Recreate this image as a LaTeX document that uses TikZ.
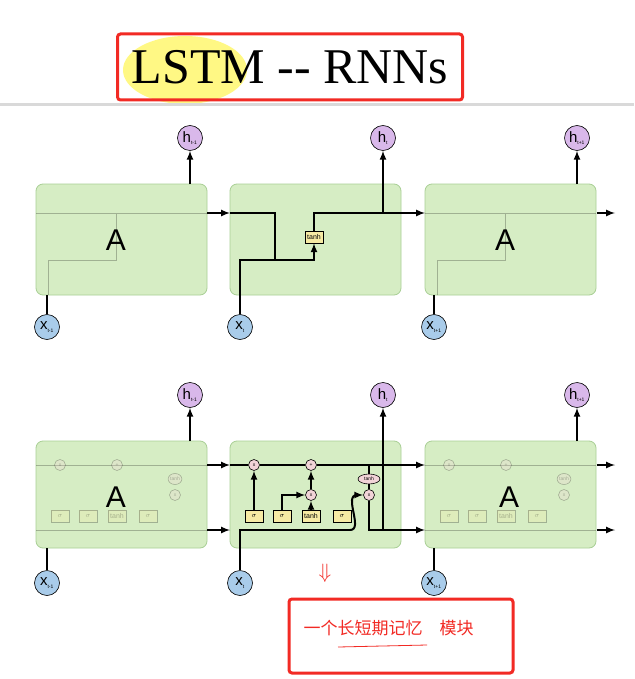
\documentclass[tikz,border=0pt]{standalone}
\usepackage{fontspec}
\setmainfont{Liberation Serif}
\newfontfamily\cjk{Noto Sans CJK SC}
\newfontfamily\sans{Liberation Sans}
\usetikzlibrary{arrows,positioning,shapes.geometric}
\definecolor{cellfill}{HTML}{D6EDC4}
\definecolor{celldraw}{HTML}{A9CF95}
\definecolor{hfill}{HTML}{D9B8EA}
\definecolor{xfill}{HTML}{A9CCEA}
\definecolor{gatefill}{HTML}{F6EAA4}
\definecolor{opfill}{HTML}{F2D4D8}
\definecolor{redbox}{HTML}{F22A24}

\begin{document}
\begin{tikzpicture}[x=1pt,y=-1pt,>=latex,semithick]
  \tikzstyle{cell}=[draw=celldraw,fill=cellfill,rounded corners=7pt,thick]
  \tikzstyle{hnode}=[circle,draw,fill=hfill,minimum size=25pt,inner sep=0pt,font=\sans\fontsize{15}{15}\selectfont]
  \tikzstyle{xnode}=[circle,draw,fill=xfill,minimum size=25pt,inner sep=0pt,font=\sans\fontsize{15}{15}\selectfont]
  \tikzstyle{gate}=[draw,fill=gatefill,minimum width=18pt,minimum height=12pt,inner sep=1pt,font=\sans\scriptsize]
  \tikzstyle{op}=[circle,draw,fill=opfill,minimum size=11pt,inner sep=0pt,font=\sans\tiny]
  \tikzstyle{flow}=[line width=2pt]
  \tikzstyle{faded}=[opacity=0.25]
  \tikzstyle{bigA}=[font=\sans\fontsize{30}{30}\selectfont]

  \useasboundingbox (0,0) rectangle (634,679);
  \fill[white] (0,0) rectangle (634,679);
  % title
  \fill[yellow!60,opacity=0.8] (185,70) ellipse (62 and 34);
  \draw[gray!30,line width=3pt] (0,105) -- (634,105);
  \node[draw=redbox,line width=3pt,rounded corners=3pt,minimum width=345pt,minimum height=66pt,
        font=\fontsize{50}{50}\selectfont] (title) at (290,67) {LSTM {-}{-} RNNs};

  % ---- top row: simple RNN ----
  \foreach \cx in {36,230,425}
    \draw[cell] (\cx,184) rectangle +(171,111);
  \foreach \cx in {36,425}
    \draw[faded] (\cx,213) -- +(171,0) (\cx+12,295) -- (\cx+12,260) -- (\cx+80,260) -- (\cx+80,213);
  \node[bigA] (A1) at (116,240) {A};
  \node[bigA] (A3) at (505,240) {A};
  \node[hnode] (h1) at (190,138) {h\textsubscript{\tiny t-1}};
  \node[hnode] (h2) at (383,138) {h\textsubscript{\tiny t}};
  \node[hnode] (h3) at (577,138) {h\textsubscript{\tiny t+1}};
  \node[xnode] (x1) at (47,327) {x\textsubscript{\tiny t-1}};
  \node[xnode] (x2) at (240,327) {x\textsubscript{\tiny t}};
  \node[xnode] (x3) at (434,327) {x\textsubscript{\tiny t+1}};
  \node[gate] (th) at (314,237) {tanh};
  \coordinate (o1) at (207,213);
  \coordinate (o3) at (597,213);
  \draw[flow,->] (o1) -- (230,213);
  \draw[flow,->] (401,213) -- (425,213);
  \draw[flow,->] (o3) -- (615,213);
  \draw[flow,->] (190,184) -- (h1);
  \draw[flow,->] (577,184) -- (h3);
  \draw[flow] (x1) -- (47,295);
  \draw[flow] (x3) -- (434,295);
  \draw[flow] (230,213) -- (275,213) -- (275,260) -- (314,260);
  \draw[flow,->] (x2) -- (240,260) -- (314,260) -- (th);
  \draw[flow,->] (th) -- (314,213) -- (383,213) -- (h2);
  \draw[flow] (383,213) -- (401,213);

  % ---- bottom row: LSTM ----
  \foreach \cx in {36,230,425}
    \draw[cell] (\cx,441) rectangle +(171,107);
  \foreach \cx in {36,425}{
    \begin{scope}[faded]
      \draw (\cx,465) -- +(171,0) (\cx,530) -- +(171,0);
      \foreach \dx/\t in {24/$\sigma$,52/$\sigma$,81/tanh,112/$\sigma$}
        \node[gate] at (\cx+\dx,516) {\t};
      \node[op] at (\cx+24,465) {x};
      \node[op] at (\cx+81,465) {+};
      \node[op] at (\cx+139,495) {x};
      \node[op,ellipse] at (\cx+139,479) {tanh};
    \end{scope}}
  \node[bigA] (A4) at (116,497) {A};
  \node[bigA] (A6) at (509,497) {A};
  \node[hnode] (h4) at (190,395) {h\textsubscript{\tiny t-1}};
  \node[hnode] (h5) at (383,395) {h\textsubscript{\tiny t}};
  \node[hnode] (h6) at (577,395) {h\textsubscript{\tiny t+1}};
  \node[xnode] (x4) at (47,583) {x\textsubscript{\tiny t-1}};
  \node[xnode] (x5) at (240,583) {x\textsubscript{\tiny t}};
  \node[xnode] (x6) at (434,583) {x\textsubscript{\tiny t+1}};
  \draw[flow,->] (190,441) -- (h4);
  \draw[flow,->] (577,441) -- (h6);
  \draw[flow] (x4) -- (47,548);
  \draw[flow] (x6) -- (434,548);
  \foreach \y in {465,530}{
    \draw[flow,->] (207,\y) -- (230,\y);
    \draw[flow,->] (401,\y) -- (425,\y);
    \draw[flow,->] (597,\y) -- (615,\y);}

  % middle cell
  \node[op] (f) at (254,465) {x};
  \node[op] (plus) at (311,465) {+};
  \node[op] (mi) at (311,495) {x};
  \node[op] (mo) at (369,495) {x};
  \node[op,ellipse,minimum width=22pt,minimum height=10pt] (tc) at (369,479) {tanh};
  \draw[flow] (230,465) -- (f) -- (plus) -- (401,465);
  \draw[flow] (x5) -- (240,530) -- (350,530);
  \draw[flow,->] (350,530) to[out=0,in=180] (357,495) -- (mo);
  \draw[flow,->] (282,516) -- (282,495) -- (mi);
  \node[gate] (g1) at (254,516) {$\sigma$};
  \node[gate] (g2) at (282,516) {$\sigma$};
  \node[gate] (g3) at (311,516) {tanh};
  \node[gate] (g4) at (342,516) {$\sigma$};
  \draw[flow,->] (g1) -- (f);
  \draw[flow,->] (g3) -- (mi);
  \draw[flow,->] (mi) -- (plus);
  \draw[flow] (369,465) -- (tc) -- (mo);
  \draw[flow] (mo) -- (369,530) -- (401,530);
  \draw[flow,->] (383,530) -- (h5);

  % note
  \node[text=redbox,font=\fontsize{20}{20}\selectfont] (arr) at (325,573) {$\Downarrow$};
  \node[draw=redbox,line width=3pt,rounded corners=3pt,minimum width=224pt,minimum height=74pt] (note) at (401,636) {};
  \node[text=redbox,font=\cjk\fontsize{17}{17}\selectfont,anchor=west] (txt) at (300,628) {一个长短期记忆\quad 模块};
  \draw[redbox,thick] (338,647) -- (427,645);
\end{tikzpicture}
\end{document}
